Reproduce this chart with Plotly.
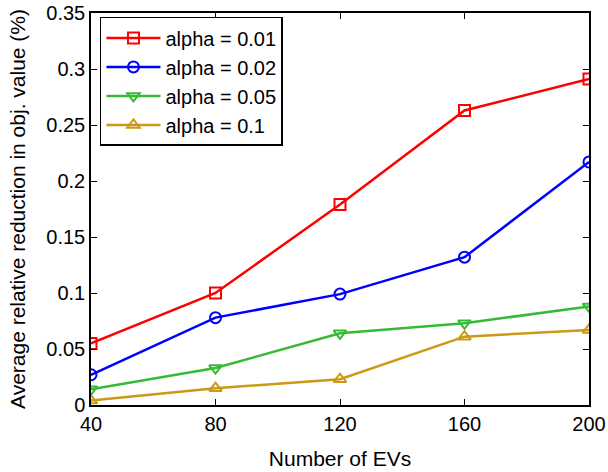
import plotly.graph_objects as go

x_evs = [40, 80, 120, 160, 200]
alpha_001 = [0.055, 0.100, 0.179, 0.263, 0.291]
alpha_002 = [0.027, 0.078, 0.099, 0.132, 0.217]
alpha_005 = [0.014, 0.033, 0.064, 0.073, 0.088]
alpha_01 = [0.004, 0.015, 0.023, 0.061, 0.067]

series = [
    ("alpha = 0.01", alpha_001, "#FF0000", "square-open"),
    ("alpha = 0.02", alpha_002, "#0000FF", "circle-open"),
    ("alpha = 0.05", alpha_005, "#33BB33", "triangle-down-open"),
    ("alpha = 0.1", alpha_01, "#CC9914", "triangle-up-open"),
]

fig = go.Figure()
for name, ys, color, sym in series:
    fig.add_trace(go.Scatter(
        x=x_evs, y=ys, name=name, mode="lines+markers",
        line=dict(color=color, width=2.5),
        marker=dict(symbol=sym, size=11, color=color, line=dict(width=2, color=color)),
    ))

FONT = "Liberation Sans, Arial"
axis_common = dict(
    showgrid=False, zeroline=False, showline=True, linecolor="black", linewidth=1.5,
    mirror="ticks", ticks="inside", ticklen=6, tickcolor="black", tickwidth=1,
    tickfont=dict(family=FONT, size=20, color="black"), automargin=False,
    ticklabeloverflow="allow",
)

fig.update_layout(
    width=608, height=472,
    margin=dict(l=91, r=19, t=13, b=67),
    paper_bgcolor="white", plot_bgcolor="white",
    font=dict(family=FONT, color="black"),
    xaxis=dict(range=[40, 200], tickvals=[40, 80, 120, 160, 200],
               title=dict(text="Number of EVs", font=dict(size=21), standoff=18), **axis_common),
    yaxis=dict(range=[0, 0.35], tickvals=[0, 0.05, 0.1, 0.15, 0.2, 0.25, 0.3, 0.35],
               ticktext=["0", "0.05", "0.1", "0.15", "0.2", "0.25", "0.3", "0.35"],
               title=dict(text="Average relative reduction in obj. value (%)", font=dict(size=21), standoff=15),
               **axis_common),
    legend=dict(x=0.018, y=0.99, xanchor="left", yanchor="top",
                bordercolor="black", borderwidth=1.5, bgcolor="white",
                font=dict(size=20, family=FONT),
                itemwidth=54, tracegroupgap=0),
    showlegend=True,
)

# remove the browser's default 8px body margin so the figure fills the window
fig.write_html("out.html", config={"displayModeBar": False},
               post_script="document.body.style.margin='0';")
